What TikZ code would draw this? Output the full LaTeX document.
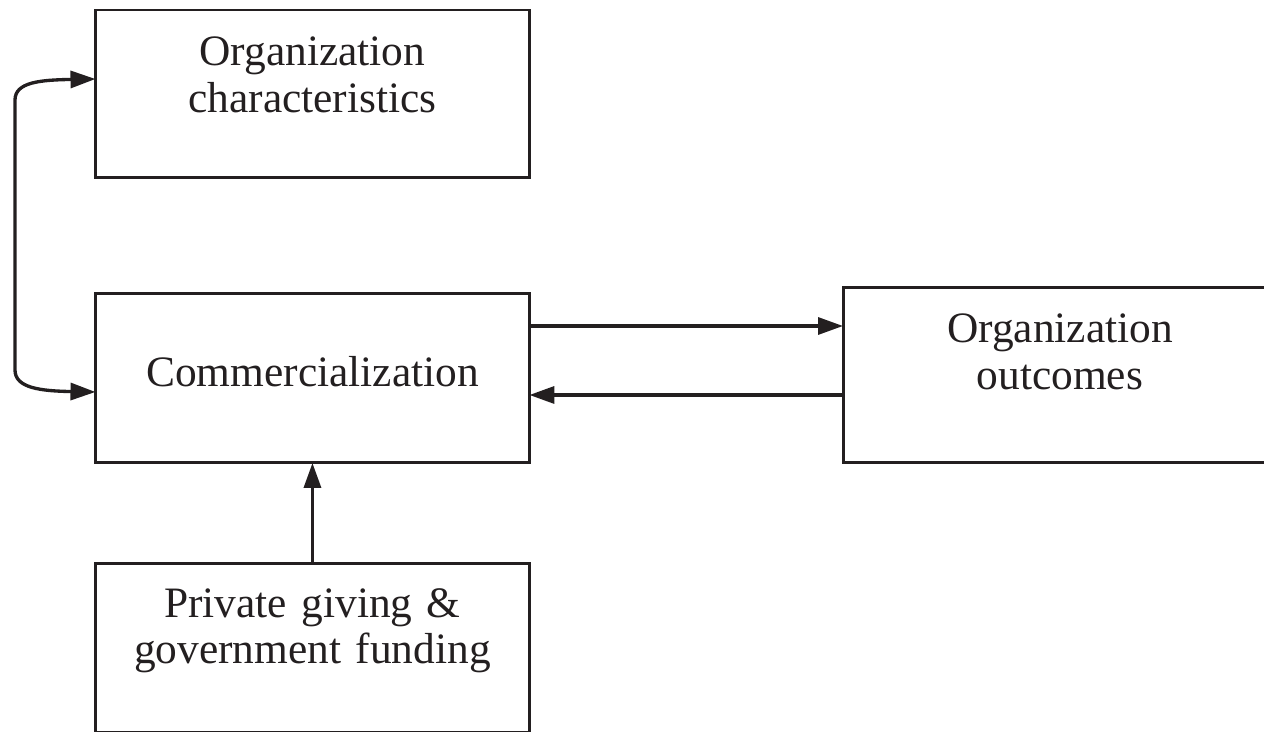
\documentclass[tikz,border=0pt]{standalone}
\usepackage{fontspec}
\setmainfont{Liberation Serif}
\usetikzlibrary{arrows.meta}
\definecolor{InkBlack}{HTML}{231F20}

\begin{document}
\begin{tikzpicture}[
  x=0.02cm,y=-0.02cm,
  box/.style={draw=InkBlack,line width=1.7pt,inner sep=0pt,outer sep=0pt,anchor=north west,text width=8.68cm,align=center,text=InkBlack,font=\fontsize{24.7pt}{26.5pt}\selectfont},
  edge/.style={-{Triangle[length=0.5cm,width=0.34cm]},draw=InkBlack,line width=1.9pt},
  biedge/.style={{Triangle[length=0.5cm,width=0.34cm]}-{Triangle[length=0.5cm,width=0.34cm]},draw=InkBlack,line width=1.9pt}
]
\useasboundingbox (0,0) rectangle (1264,731);
\clip (0,0) rectangle (1264,731);
% boxes, text height/depth put the first baseline in place
\node[box,text height=1.12cm,text depth=2.24cm] (orgchar) at (95.5,10) {Organization\\characteristics};
\node[box,text height=1.88cm,text depth=1.52cm] (comm) at (95.5,293) {Commercialization};
\node[box,text height=1.12cm,text depth=2.40cm] (outcome) at (843,287) {Organization\\outcomes};
\node[box,text height=1.08cm,text depth=2.32cm] (funding) at (95.5,563) {Private giving \&\\government funding};
% connectors
\path ([yshift=1.04cm]comm.east) coordinate (toout);
\path ([yshift=-0.40cm]outcome.west) coordinate (back);
\draw[edge] (toout) -- (toout -| outcome.west);
\draw[edge] (back) -- (back -| comm.east);
\draw[edge] (funding.north) -- (comm.south);
\draw[biedge] ([yshift=0.30cm]orgchar.west) .. controls +(-55,1) and +(0,-18) .. (15,100) -- (15,370) .. controls +(0,18) and +(-55,-1) .. ([yshift=-0.28cm]comm.west);
\end{tikzpicture}
\end{document}
